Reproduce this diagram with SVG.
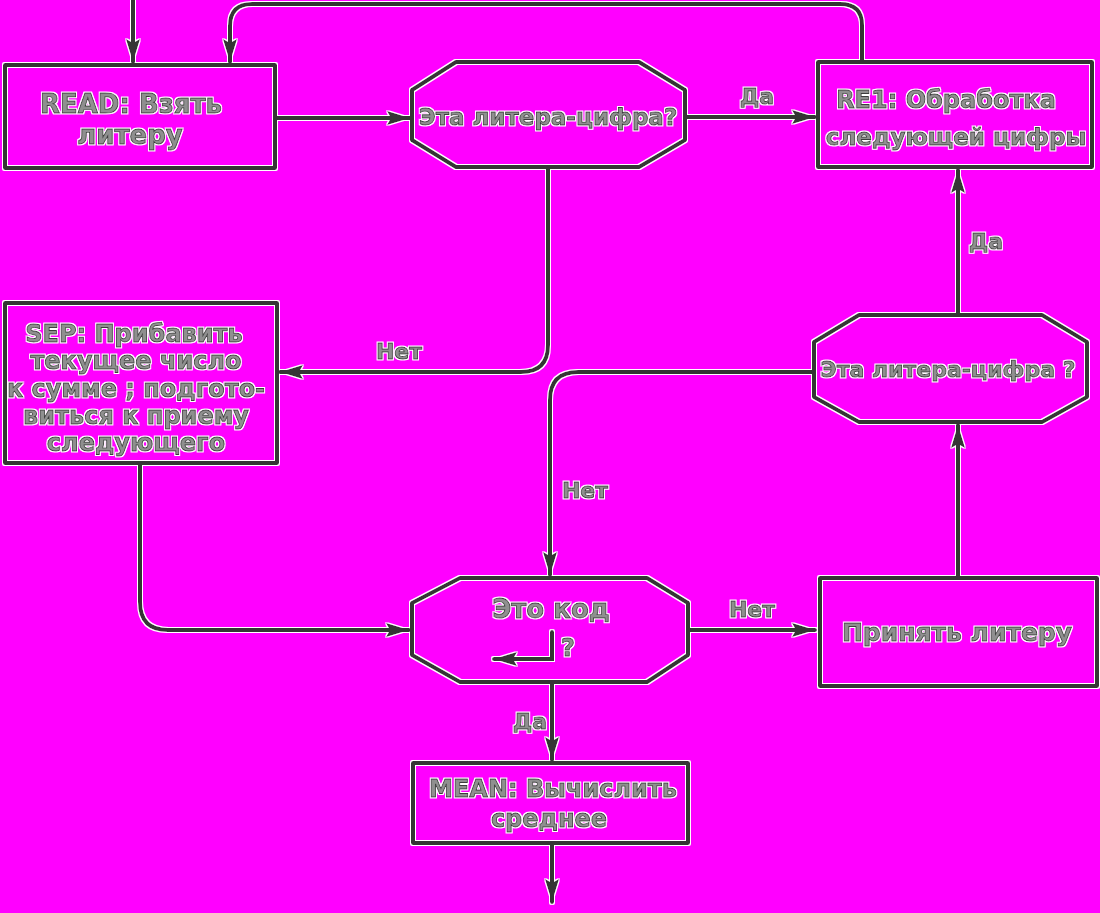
<svg xmlns="http://www.w3.org/2000/svg" width="1100" height="913" viewBox="0 0 1100 913">
<style>
.shape{fill:none;stroke:#363636;stroke-width:4;stroke-linejoin:round}
.conn{fill:none;stroke:#363636;stroke-width:4;stroke-linecap:round}
.t{font-family:"DejaVu Sans","Liberation Sans",sans-serif;font-weight:bold;font-size:24px;fill:#8f8f8f;stroke:#3c3c3c;stroke-width:0.9;text-anchor:middle}
.lbl{font-family:"DejaVu Sans","Liberation Sans",sans-serif;font-weight:bold;font-size:22px;fill:#8f8f8f;stroke:#3c3c3c;stroke-width:0.9;text-anchor:middle}
</style>
<defs>
<marker id="arr" markerUnits="userSpaceOnUse" markerWidth="26" markerHeight="16" refX="23" refY="8" orient="auto">
<path d="M0,1 L23,8 L0,15 L4,8 z" fill="#363636"/>
</marker>
<filter id="halo" x="-5%" y="-5%" width="110%" height="110%">
<feMorphology in="SourceAlpha" operator="dilate" radius="1" result="d"/>
<feFlood flood-color="#ffffff"/>
<feComposite in2="d" operator="in" result="w"/>
<feMerge><feMergeNode in="w"/><feMergeNode in="SourceGraphic"/></feMerge>
</filter>
</defs>
<rect width="1100" height="913" fill="#ff00ff"/>

<g filter="url(#halo)">
<g id="connectors">
<path class="conn" d="M133,0 V62" marker-end="url(#arr)"/>
<path class="conn" d="M862,62 V25 Q862,4 840,4 H252 Q230,4 230,26 V62" marker-end="url(#arr)"/>
<path class="conn" d="M275,118 H410" marker-end="url(#arr)"/>
<path class="conn" d="M685,117 H815" marker-end="url(#arr)"/>
<text class="lbl" x="757" y="104">Да</text>
<path class="conn" d="M548,167 V345 Q548,372 521,372 H280" marker-end="url(#arr)"/>
<text class="lbl" x="399" y="359">Нет</text>
<path class="conn" d="M958,315 V170" marker-end="url(#arr)"/>
<text class="lbl" x="986" y="249">Да</text>
<path class="conn" d="M814,372 H578 Q550,372 550,400 V575" marker-end="url(#arr)"/>
<text class="lbl" x="585" y="498">Нет</text>
<path class="conn" d="M140,463 V602 Q140,630 168,630 H409" marker-end="url(#arr)"/>
<path class="conn" d="M688,630 H815" marker-end="url(#arr)"/>
<text class="lbl" x="752" y="617">Нет</text>
<path class="conn" d="M958,578 V425" marker-end="url(#arr)"/>
<path class="conn" d="M552,682 V760" marker-end="url(#arr)"/>
<text class="lbl" x="530" y="729">Да</text>
<path class="conn" d="M552,843 V902" marker-end="url(#arr)"/>
</g>

<g id="read">
<rect class="shape" x="5" y="65" width="270" height="103"/>
<text class="t" x="131" y="113" style="font-size:26px">READ: Взять</text>
<text class="t" x="130" y="144" style="font-size:26px">литеру</text>
</g>

<g id="decision1">
<polygon class="shape" points="456,62 639,62 685,90 685,140 639,167 456,167 412,140 412,90"/>
<text class="t" x="548" y="125" style="font-size:23px">Эта литера-цифра?</text>
</g>

<g id="re1">
<rect class="shape" x="818" y="62" width="274" height="105"/>
<text class="t" x="946" y="108">RE1: Обработка</text>
<text class="t" x="956" y="145" style="font-size:23px">следующей цифры</text>
</g>

<g id="sep">
<rect class="shape" x="5" y="303" width="272" height="160"/>
<text class="t" x="134" y="342">SEP: Прибавить</text>
<text class="t" x="136" y="369">текущее число</text>
<text class="t" x="136" y="397">к сумме ; подгото-</text>
<text class="t" x="136" y="424">виться к приему</text>
<text class="t" x="136" y="451">следующего</text>
</g>

<g id="decision2">
<polygon class="shape" points="859,315 1042,315 1087,342 1087,397 1042,422 859,422 814,397 814,342"/>
<text class="t" x="948" y="377" style="font-size:22px">Эта литера-цифра ?</text>
</g>

<g id="decision3">
<polygon class="shape" points="460,578 647,578 688,603 688,655 647,682 460,682 412,655 412,603"/>
<text class="t" x="551" y="618" style="font-size:26px">Это код</text>
<path class="conn" d="M552,632 V659 H494" marker-end="url(#arr)"/>
<text class="t" x="568" y="656">?</text>
</g>

<g id="accept">
<rect class="shape" x="820" y="578" width="277" height="108"/>
<text class="t" x="957" y="641" style="font-size:25px">Принять литеру</text>
</g>

<g id="mean">
<rect class="shape" x="413" y="763" width="275" height="80"/>
<text class="t" x="553" y="797">MEAN: Вычислить</text>
<text class="t" x="549" y="827">среднее</text>
</g>
</g>
</svg>
